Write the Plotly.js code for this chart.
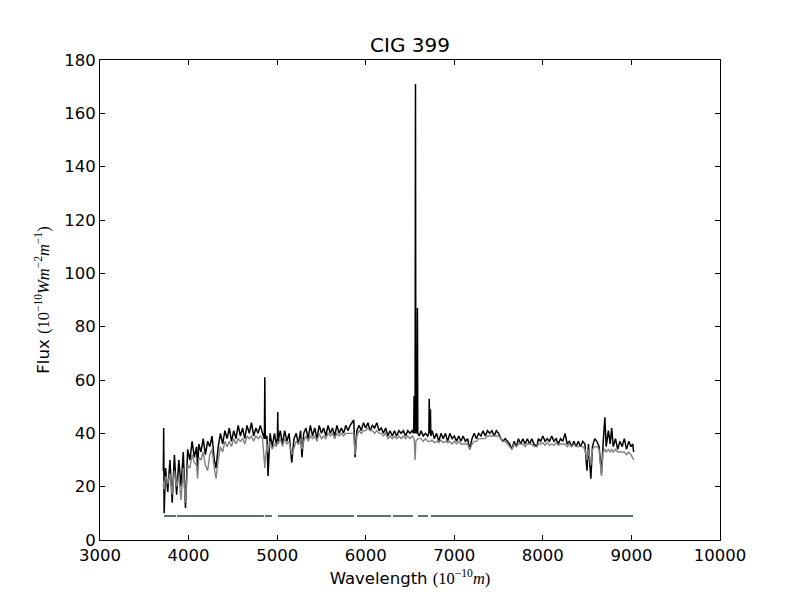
<!DOCTYPE html>
<html>
<head>
<meta charset="utf-8">
<script src="https://cdn.plot.ly/plotly-3.0.1.min.js"></script>
<style>
  html, body { margin:0; padding:0; background:#fff; }
  #plot { width:800px; height:600px; }
</style>
</head>
<body>
<div id="plot"></div>
<script>
// ── Data ─────────────────────────────────────────────────────────────────────
// wavelength grid (Angstrom), shared by observed and model spectra
const wave = [
  3715,3719,3724,3740,3765,3790,3815,3840,3865,3890,
  3915,3940,3965,3990,4015,4040,4065,4090,4102,4115,
  4140,4165,4190,4215,4240,4265,4290,4310,4335,4360,
  4385,4410,4435,4460,4485,4510,4535,4560,4585,4610,
  4635,4660,4685,4710,4735,4760,4785,4810,4835,4856,
  4861,4866,4885,4897,4920,4945,4970,4990,5003,5007,
  5011,5035,5060,5085,5110,5135,5165,5190,5215,5240,
  5265,5280,5300,5325,5350,5375,5400,5425,5450,5475,
  5500,5525,5550,5575,5600,5625,5650,5675,5700,5725,
  5750,5775,5800,5825,5865,5880,5900,5925,5950,5975,
  6000,6025,6050,6075,6100,6125,6150,6175,6200,6225,
  6250,6275,6300,6325,6350,6375,6400,6425,6450,6475,
  6500,6525,6542,6546,6551,6557,6562,6566,6580,6584,
  6588,6605,6625,6650,6675,6700,6713,6717,6722,6731,
  6735,6750,6775,6800,6825,6850,6875,6900,6925,6950,
  6975,7000,7025,7050,7075,7100,7125,7150,7175,7200,
  7225,7250,7275,7300,7325,7350,7375,7400,7425,7450,
  7475,7500,7525,7550,7575,7600,7625,7650,7675,7700,
  7725,7750,7775,7800,7825,7850,7875,7900,7933,7950,
  7975,8000,8025,8050,8075,8100,8125,8150,8175,8200,
  8225,8250,8275,8300,8325,8350,8375,8400,8425,8450,
  8475,8498,8515,8542,8560,8585,8610,8635,8662,8680,
  8700,8715,8740,8760,8777,8795,8820,8845,8870,8895,
  8920,8945,8970,8995,9015,9025
];

// observed spectrum (black)
const obsFlux = [
  26,42,10,27,18,30,14,32,17,30,
  20,33,12,34,30,37,31,35,26,36,
  33,38,32,37,35,39,30,27,35,40,
  36,41,38,42,37,41,38,43,39,42,
  38,43,40,44,39,42,40,43,40,38,
  61,38,39,24,40,35,40,36,38,48,
  37,41,36,41,37,40,29,38,40,36,
  41,31,40,42,38,43,39,42,38,43,
  40,42,39,43,40,42,39,43,40,42,
  40,43,41,43,45,31,41,43,41,44,
  42,44,41,43,42,44,41,42,40,42,
  39,41,39,41,39,41,40,41,39,41,
  40,41,40,54,41,40,171,40,41,87,
  40,39,41,39,40,39,40,53,40,49,
  39,41,38,40,37,40,38,40,37,40,
  38,39,37,39,37,39,37,38,34,38,
  40,38,40,39,41,39,41,40,41,39,
  41,40,38,37,38,37,36,34,37,35,
  38,36,38,36,38,36,38,36,35,38,
  37,39,37,38,37,39,37,38,36,38,
  37,40,36,37,35,37,35,37,35,37,
  36,26,36,23,35,38,37,35,25,36,
  46,35,41,36,42,35,38,34,37,35,
  38,34,37,35,36,33
];

// stellar population model (grey)
const modelFlux = [
  20,22,19,24,21,25,17,26,20,24,
  15,27,14,28,27,32,29,28,23,31,
  30,33,28,26,32,34,27,23,30,35,
  33,37,35,37,35,38,36,38,37,38,
  36,39,38,39,37,39,38,39,38,31,
  27,30,36,33,37,34,36,35,37,37,
  36,38,35,38,36,37,32,35,37,36,
  38,34,37,39,37,39,38,39,37,40,
  38,39,38,40,39,40,38,40,39,40,
  39,40,40,40,40,32,39,41,40,41,
  41,42,41,41,40,41,40,40,39,40,
  38,39,38,39,38,39,38,39,38,39,
  38,39,38,38,36,30,33,37,38,38,
  38,38,38,37,38,37,37,37,37,37,
  37,37.5,36.5,37,36.5,37.5,36.5,37,36.5,37,
  36,37,36,37,36,36,36,36,34,36,
  37,37,38,38,38,38,39,39,39,39,
  39,39,38,37,37,36,35,34,36,35,
  36,36,36,35,36,36,36,35,35,36,
  36,36.5,35.5,36.5,35.5,36,35.5,36.5,35.5,36,
  36,36,35,36,35,36,35,35,35,35,
  34,30,34,28,34,35,35,34,24,33,
  34,33,34,33,34,33,34,33,33,33,
  33,32,33,32,31,30
];

// fitted (unmasked) wavelength ranges, drawn as a bar at constant flux
const maskStart = [3723, 3869, 4863, 5010, 5902, 6308, 6590, 6737];
const maskEnd   = [3858, 4852, 4942, 5868, 6285, 6534, 6703, 9018];
const maskLevel = 9;

// ── Traces ───────────────────────────────────────────────────────────────────
const maskX = [], maskY = [];
maskStart.forEach((s, i) => {
  maskX.push(s, maskEnd[i], null);
  maskY.push(maskLevel, maskLevel, null);
});

const traces = [
  { x:maskX, y:maskY, mode:'lines', connectgaps:false,
    line:{ color:'#607075', width:2 }, hoverinfo:'skip' },
  { x:wave, y:obsFlux, mode:'lines', line:{ color:'#000000', width:1.5 } },
  { x:wave, y:modelFlux, mode:'lines', line:{ color:'#808080', width:1.4 } },
];

const AXIS = {
  showgrid:false, zeroline:false,
  showline:true, linecolor:'#000', linewidth:1, mirror:'ticks',
  ticks:'inside', ticklen:5, tickwidth:1, tickcolor:'#000',
  tickformat:'d',
  tickfont:{ family:'DejaVu Sans', size:16.5, color:'#000' },
};

const MATH = '<span style="font-family:\'Liberation Serif\'">';

Plotly.newPlot('plot', traces, {
  width:800, height:600,
  paper_bgcolor:'#fff', plot_bgcolor:'#fff',
  showlegend:false,
  font:{ family:'DejaVu Sans', color:'#000', size:16.5 },
  margin:{ l:100, r:80, t:60, b:60 },
  title:{ text:'CIG 399', x:0.5, xref:'paper', y:1 - 45/600, yanchor:'middle',
          font:{ family:'DejaVu Sans', size:20, color:'#000' } },
  xaxis:{ ...AXIS, range:[3000, 10000], dtick:1000, tick0:3000,
          title:{ text:'Wavelength ' + MATH + '(10<sup>−10</sup><i>m</i>)</span>',
                  standoff:8, font:{ size:16.5 } } },
  yaxis:{ ...AXIS, range:[0, 180], dtick:20, tick0:0,
          title:{ text:'Flux ' + MATH + '(10<sup>−10</sup><i>Wm</i><sup>−2</sup><i>m</i><sup>−1</sup>)</span>',
                  standoff:10, font:{ size:16.5 } } },
}, { displayModeBar:false, staticPlot:true });
</script>
</body>
</html>
